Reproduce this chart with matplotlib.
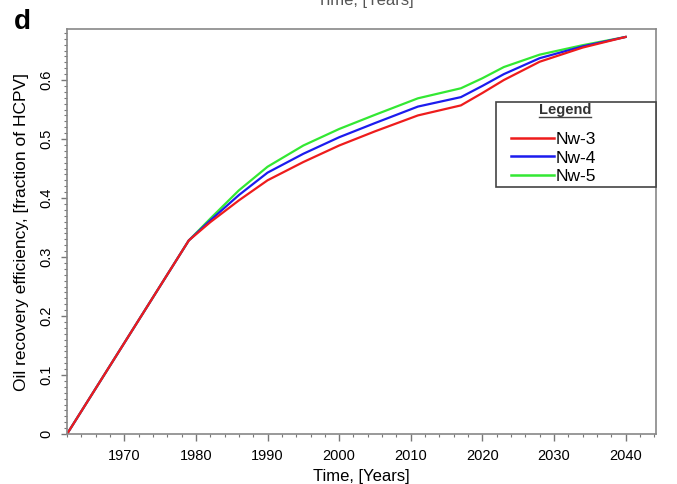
import matplotlib
matplotlib.use('Agg')
import matplotlib.pyplot as plt
from matplotlib.ticker import MultipleLocator
from matplotlib.lines import Line2D
from matplotlib.patches import Rectangle

plt.rcParams['font.family'] = ['Liberation Sans', 'DejaVu Sans']

# values
years = [1962, 1979, 1982, 1986, 1990, 1995, 2000, 2005, 2011, 2017, 2020, 2023, 2028, 2034, 2040]
nw3 = [0.0, 0.328, 0.359, 0.396, 0.430, 0.461, 0.489, 0.513, 0.540, 0.557, 0.578, 0.600, 0.631, 0.655, 0.673]
nw4 = [0.0, 0.328, 0.362, 0.405, 0.443, 0.475, 0.503, 0.527, 0.555, 0.571, 0.590, 0.610, 0.637, 0.657, 0.673]
nw5 = [0.0, 0.328, 0.365, 0.413, 0.453, 0.489, 0.517, 0.541, 0.569, 0.586, 0.603, 0.622, 0.643, 0.659, 0.673]
series = {'Nw-3': nw3, 'Nw-4': nw4, 'Nw-5': nw5}
colors = {'Nw-3': '#ee1c1c', 'Nw-4': '#1c1cee', 'Nw-5': '#33e833'}

fig = plt.figure(figsize=(6.77, 4.84), dpi=100)
ax = fig.add_axes([0.099, 0.1033, 0.8695, 0.8362])

# draw red last so it sits on top along the shared history
for name in ['Nw-5', 'Nw-4', 'Nw-3']:
    ax.plot(years, series[name], color=colors[name], lw=1.6, label=name)

ax.set_xlim(1962, 2044.2)
ax.set_ylim(0, 0.686)
ax.xaxis.set_major_locator(MultipleLocator(10))
ax.xaxis.set_minor_locator(MultipleLocator(2))
ax.yaxis.set_minor_locator(MultipleLocator(0.01))
ax.set_yticks([0, 0.1, 0.2, 0.3, 0.4, 0.5, 0.6])
ax.set_yticklabels(['0', '0.1', '0.2', '0.3', '0.4', '0.5', '0.6'], rotation=90, va='center')
ax.set_xticks(range(1970, 2041, 10))

ax.tick_params(which='major', direction='out', length=5, width=1, color='#777777',
               labelsize=10.5, pad=6)
ax.tick_params(which='minor', direction='out', length=2.5, width=0.8, color='#777777')
ax.tick_params(axis='y', which='major', length=4)
for s in ax.spines.values():
    s.set_color('#888888')
    s.set_linewidth(1.2)

ax.set_xlabel('Time, [Years]', fontsize=12, labelpad=4)
ax.set_ylabel('Oil recovery efficiency, [fraction of HCPV]', fontsize=12.5, labelpad=7)

# legend: own frame and title, entries from ax.legend
ax.add_patch(Rectangle((0.729, 0.610), 0.271, 0.210, transform=ax.transAxes,
                       fc='white', ec='#444444', lw=1.2, zorder=4, clip_on=False))
handles = [Line2D([], [], color=colors[n], lw=1.8) for n in ['Nw-3', 'Nw-4', 'Nw-5']]
leg = ax.legend(handles, ['Nw-3', 'Nw-4', 'Nw-5'],
                loc='upper left', bbox_to_anchor=(0.754, 0.746),
                frameon=False, fontsize=12.5,
                handlelength=2.5, handletextpad=0.1, labelspacing=0.18,
                borderpad=0, borderaxespad=0)
leg.set_zorder(5)

title = fig.text(0.835, 1 - 110 / 484, 'Legend', fontsize=10.5, fontweight='bold',
                 color='#333333', ha='center', va='center')
fig.canvas.draw()
tb = title.get_window_extent()
fig.add_artist(Line2D([tb.x0 / fig.bbox.width, tb.x1 / fig.bbox.width],
                      [(tb.y0 + 0.5) / fig.bbox.height] * 2,
                      color='#444444', lw=1))

fig.text(0.033, 0.955, 'd', fontsize=20, fontweight='bold', ha='center', va='center')
# clipped axis title from the panel above
fig.text(0.54, 0.998, 'Time, [Years]', fontsize=12, color='#555555', ha='center', va='center')

fig.savefig('out.png', dpi=100)
